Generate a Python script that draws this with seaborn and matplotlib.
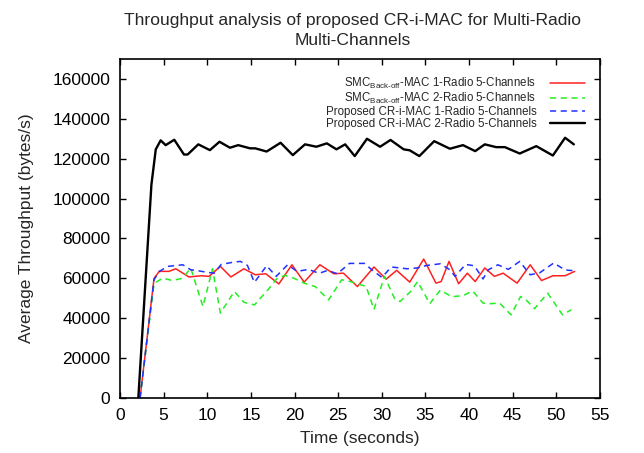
import matplotlib
matplotlib.use("Agg")
import matplotlib.pyplot as plt
import seaborn as sns
import numpy as np

# ---- data ----
t_smc1 = [2.3, 3.9, 4.5, 5.6, 6.4, 7.9, 9.3, 10.2, 11.5, 12.7, 14.2, 15.5, 16.7, 18.2, 19.7,
          21.1, 22.9, 24.5, 25.6, 27.2, 29.1, 30.5, 31.7, 33.2, 34.8, 36.2, 36.8, 37.7, 38.8,
          39.8, 40.7, 41.8, 42.9, 43.9, 45.5, 47.0, 48.3, 49.6, 51.0, 52.1]
v_smc1 = [0, 60000, 63500, 63500, 64800, 60700, 61300, 61000, 66000, 60700, 64800, 61800, 62300,
          57200, 66800, 58100, 66800, 62300, 62600, 55900, 65700, 59600, 64000, 58100, 69700,
          57600, 58400, 68500, 57300, 62600, 58400, 65200, 61000, 62600, 57600, 66800, 58900,
          61300, 61300, 63500]

t_smc2 = [2.3, 3.9, 4.9, 6.0, 7.2, 8.1, 9.5, 10.6, 11.5, 13.1, 14.2, 15.4, 16.9, 18.0, 18.9,
          19.9, 21.1, 22.4, 23.9, 25.4, 26.4, 27.2, 28.2, 29.1, 30.3, 31.5, 32.1, 33.3, 34.1,
          35.5, 36.7, 38.0, 39.3, 40.4, 41.6, 42.5, 43.5, 44.8, 45.9, 46.6, 47.5, 49.0, 50.7, 51.7]
v_smc2 = [0, 57500, 60100, 58900, 60100, 65200, 45900, 64800, 42600, 53400, 48000, 46700, 54000,
          60000, 61500, 60100, 57600, 55800, 49200, 59300, 58400, 57200, 56000, 44400, 61000,
          49500, 48400, 53400, 58400, 47300, 54100, 50800, 51300, 53700, 47600, 47300, 47600,
          41700, 50900, 48900, 44800, 52600, 41700, 44200]

t_cr1 = [2.3, 3.9, 4.5, 5.5, 6.5, 7.2, 8.1, 8.7, 10.0, 10.8, 11.6, 13.1, 13.8, 14.6, 15.4, 16.8,
         17.9, 19.2, 20.3, 21.6, 22.8, 23.8, 24.9, 26.3, 28.0, 28.8, 30.0, 31.1, 32.9, 34.0, 35.2,
         36.7, 37.8, 38.4, 39.6, 40.6, 41.6, 42.2, 43.3, 44.5, 45.8, 47.0, 48.1, 49.7, 51.0, 52.1]
v_cr1 = [0, 59300, 63500, 66000, 66500, 66800, 64300, 64000, 63000, 62600, 67000, 68200, 68500,
         66500, 58000, 66300, 61000, 66800, 63500, 64500, 62500, 64000, 62300, 67500, 67500,
         64500, 60500, 65700, 64800, 65200, 66500, 67300, 64300, 61000, 67000, 66300, 59700,
         64300, 66800, 64500, 68500, 61800, 62800, 67700, 64200, 63800]

t_cr2 = [2.1, 3.6, 4.1, 4.66, 5.23, 6.22, 7.33, 7.75, 8.97, 10.3, 11.4, 12.6, 13.55, 14.9, 15.5,
         16.8, 18.4, 19.8, 21.2, 22.5, 23.7, 24.8, 25.8, 26.9, 28.3, 29.8, 31.0, 32.5, 33.2, 34.3,
         36.0, 37.8, 39.3, 40.7, 41.8, 43.1, 44.1, 45.8, 47.7, 49.6, 51.0, 52.0]
v_cr2 = [0, 107000, 124700, 129200, 126800, 129500, 122100, 122100, 127200, 124300, 128500,
         125500, 126800, 125200, 125200, 123600, 128000, 121800, 127200, 126000, 127700, 124700,
         127200, 121300, 130000, 126000, 129400, 124700, 124200, 121300, 128800, 125000, 126800,
         123800, 127200, 125800, 125800, 122600, 126300, 121600, 130500, 127200]

labels = [
    "SMC$_{\\mathregular{Back\u2010off}}$-MAC 1-Radio 5-Channels",
    "SMC$_{\\mathregular{Back\u2010off}}$-MAC 2-Radio 5-Channels",
    "Proposed CR-i-MAC 1-Radio 5-Channels",
    "Proposed CR-i-MAC 2-Radio 5-Channels",
]
x_ticks = list(range(0, 56, 5))
y_ticks = list(range(0, 160001, 20000))

title = "Throughput analysis of proposed CR-i-MAC for Multi-Radio\nMulti-Channels"
xlabel = "Time (seconds)"
ylabel = "Average Throughput (bytes/s)"

# ---- styling ----
sns.set_theme(style="ticks")
plt.rcParams["font.family"] = ["Liberation Sans", "DejaVu Sans"]
plt.rcParams["mathtext.fontset"] = "custom"
plt.rcParams["mathtext.rm"] = "Liberation Sans"

fig = plt.figure(figsize=(6.44, 4.53), dpi=100)
ax = fig.add_axes([120 / 644, 1 - 398 / 453, 480 / 644, (398 - 59) / 453])

series = [
    (t_smc1, v_smc1, dict(color="#ff2020", lw=1.1, ls="-")),
    (t_smc2, v_smc2, dict(color="#22ee22", lw=1.1, ls=(0, (4, 3)))),
    (t_cr1, v_cr1, dict(color="#2030ff", lw=1.1, ls=(0, (4, 3)))),
    (t_cr2, v_cr2, dict(color="black", lw=1.7, ls="-")),
]
for (t, v, st), lab in zip(series, labels):
    sns.lineplot(x=t, y=v, ax=ax, sort=False, estimator=None, label=lab,
                 color=st["color"], linewidth=st["lw"], linestyle=st["ls"])

ax.set_xlim(0, 55)
ax.set_ylim(0, 170000)
ax.set_xticks(x_ticks)
ax.set_yticks(y_ticks)
ax.tick_params(direction="in", top=True, right=True, length=4, width=1.0,
               labelsize=12.5, colors="black", pad=7)
for s in ax.spines.values():
    s.set_visible(True)
    s.set_linewidth(1.2)
    s.set_color("black")

ax.set_xlabel(xlabel, fontsize=12.5, labelpad=6)
ax.set_ylabel(ylabel, fontsize=12.5, labelpad=13)
ttl = ax.set_title(title, fontsize=12.6, pad=10, linespacing=1.4)
ttl.set_x(0.485)

leg = ax.legend(loc="upper right", frameon=False, markerfirst=False, fontsize=8.3,
                handlelength=3.0, handletextpad=1.2, labelspacing=0.0,
                borderaxespad=0.3, bbox_to_anchor=(0.985, 0.975))

fig.savefig("out.png", dpi=100)
